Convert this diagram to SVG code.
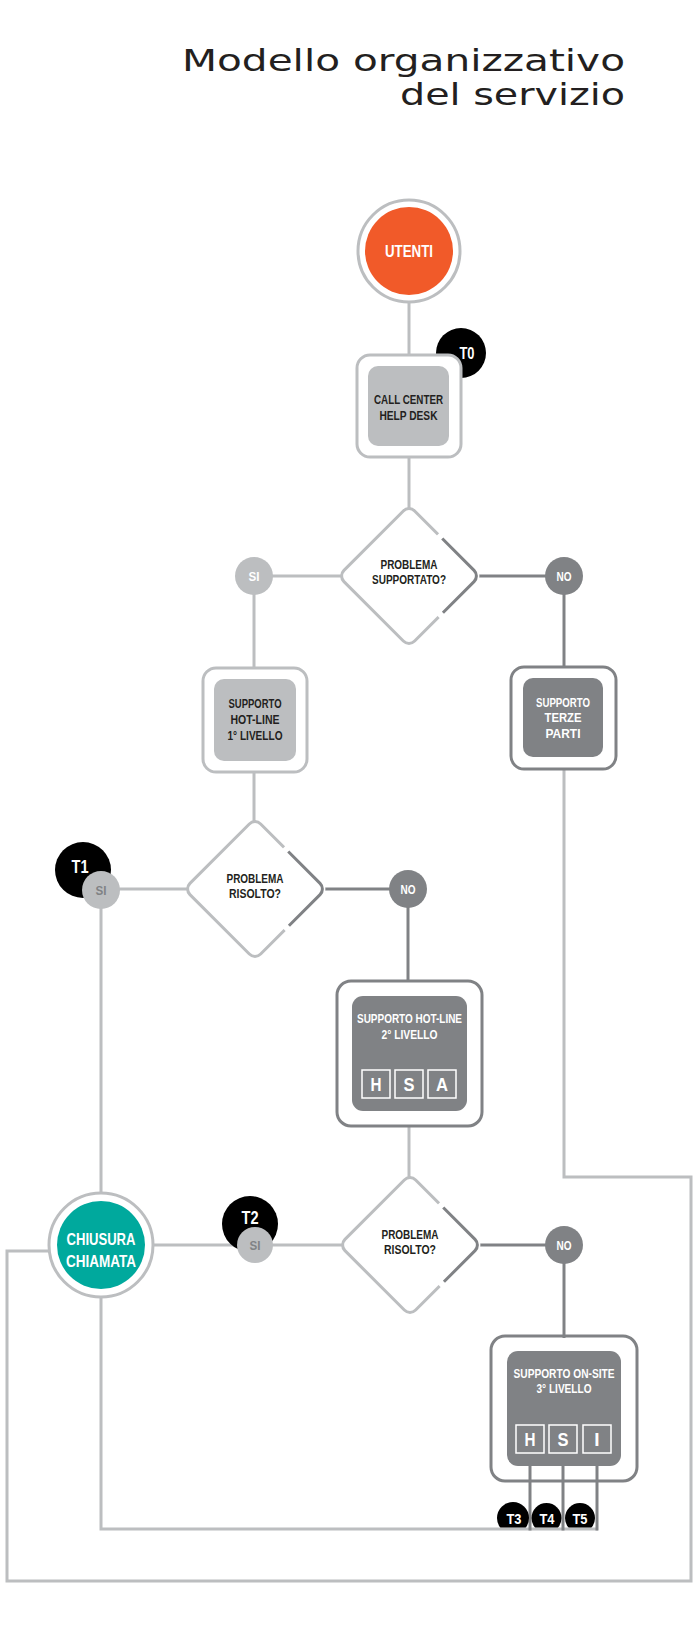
<svg xmlns="http://www.w3.org/2000/svg" width="700" height="1625" viewBox="0 0 700 1625">
<defs>
<style>
.lt{stroke:#bcbec0;stroke-width:3;fill:none}
.dk{stroke:#808285;stroke-width:3;fill:none}
.gap{stroke:#ffffff;stroke-width:6;fill:none}
.ob{fill:#ffffff;stroke:#bcbec0;stroke-width:3}
.obd{fill:#ffffff;stroke:#808285;stroke-width:3}
.dia{fill:#ffffff;stroke:#bcbec0;stroke-width:3}
.t{font-family:'Liberation Sans','Arial',sans-serif;font-weight:bold;text-anchor:middle}
.s12{font-size:13px}
.blk{fill:#231f20}
.wh{fill:#ffffff}
.gr{fill:#808285}
.title{font-family:'DejaVu Sans','Liberation Sans',sans-serif;font-size:30px;fill:#231f20}
.let{fill:none;stroke:#ffffff;stroke-width:1.5}
</style>
<clipPath id="tclip"><rect x="480" y="1490" width="130" height="37.5"/></clipPath>
</defs>
<rect width="700" height="1625" fill="#ffffff"/>

<g id="title">
<text class="title" x="182" y="71" textLength="443" lengthAdjust="spacingAndGlyphs">Modello organizzativo</text>
<text class="title" x="400" y="105" textLength="225" lengthAdjust="spacingAndGlyphs">del servizio</text>
</g>

<g id="connectors">
<line class="lt" x1="409" y1="300" x2="409" y2="357"/>
<line class="lt" x1="409" y1="455" x2="409" y2="512"/>
<line class="lt" x1="345" y1="576" x2="254" y2="576"/>
<line class="lt" x1="254" y1="576" x2="254" y2="670"/>
<line class="dk" x1="473" y1="576" x2="564" y2="576"/>
<line class="dk" x1="564" y1="576" x2="564" y2="669"/>
<line class="lt" x1="254" y1="770" x2="254" y2="826"/>
<line class="lt" x1="192" y1="889" x2="101" y2="889"/>
<line class="lt" x1="101" y1="889" x2="101" y2="1196"/>
<line class="dk" x1="318" y1="889" x2="408" y2="889"/>
<line class="dk" x1="408" y1="889" x2="408" y2="983"/>
<line class="lt" x1="409" y1="1124" x2="409" y2="1182"/>
<line class="lt" x1="346" y1="1245" x2="150" y2="1245"/>
<line class="dk" x1="474" y1="1245" x2="564" y2="1245"/>
<line class="dk" x1="564" y1="1245" x2="564" y2="1338"/>
<polyline class="lt" points="564,767 564,1177 691,1177 691,1581 7,1581 7,1251 51,1251"/>
<polyline class="lt" points="101,1295 101,1529 598,1529"/>
<line class="dk" x1="530" y1="1460" x2="530" y2="1530.5"/>
<line class="dk" x1="563" y1="1460" x2="563" y2="1530.5"/>
<line class="dk" x1="597" y1="1460" x2="597" y2="1530.5"/>
</g>

<g id="utenti">
<circle cx="409" cy="251" r="51" class="ob"/>
<circle cx="409" cy="251" r="44" fill="#f15a29"/>
<text class="t wh" x="409" y="257" font-size="16.5" textLength="48" lengthAdjust="spacingAndGlyphs">UTENTI</text>
</g>

<g id="t0">
<circle cx="461" cy="353" r="25" fill="#000000"/>
<text class="t wh" x="467" y="359" font-size="16" textLength="15" lengthAdjust="spacingAndGlyphs">T0</text>
</g>

<g id="callcenter">
<rect x="357" y="355" width="104" height="102" rx="13" class="ob"/>
<rect x="368" y="366" width="81" height="80" rx="10" fill="#bcbec0"/>
<text class="t blk s12" x="408.5" y="404" textLength="69" lengthAdjust="spacingAndGlyphs">CALL CENTER</text>
<text class="t blk s12" x="408.5" y="420" textLength="58" lengthAdjust="spacingAndGlyphs">HELP DESK</text>
</g>

<g id="diamond1" transform="translate(409,576)">
<rect x="-50" y="-50" width="100" height="100" rx="8" transform="rotate(45)" class="dia"/>
<path d="M-9,-50 H42 A8 8 0 0 1 50,-42 V8" transform="rotate(45)" class="gap"/>
<path d="M-3,-50 H42 A8 8 0 0 1 50,-42 V2" transform="rotate(45)" class="dk"/>
<text class="t blk s12" x="0" y="-7" textLength="57" lengthAdjust="spacingAndGlyphs">PROBLEMA</text>
<text class="t blk s12" x="0" y="8" textLength="74" lengthAdjust="spacingAndGlyphs">SUPPORTATO?</text>
</g>

<g id="si1">
<circle cx="254" cy="576" r="19" fill="#bcbec0"/>
<text class="t wh s12" x="254" y="581" textLength="11" lengthAdjust="spacingAndGlyphs">SI</text>
</g>

<g id="no1">
<circle cx="564" cy="576" r="19" fill="#808285"/>
<text class="t wh s12" x="564" y="581" textLength="15" lengthAdjust="spacingAndGlyphs">NO</text>
</g>

<g id="hotline1">
<rect x="203" y="668" width="104" height="104" rx="13" class="ob"/>
<rect x="214" y="679" width="82" height="82" rx="10" fill="#bcbec0"/>
<text class="t blk s12" x="255" y="708" textLength="53" lengthAdjust="spacingAndGlyphs">SUPPORTO</text>
<text class="t blk s12" x="255" y="724" textLength="49" lengthAdjust="spacingAndGlyphs">HOT-LINE</text>
<text class="t blk s12" x="255" y="740" textLength="55" lengthAdjust="spacingAndGlyphs">1° LIVELLO</text>
</g>

<g id="terzeparti">
<rect x="511" y="667" width="105" height="102" rx="13" class="obd"/>
<rect x="523" y="678" width="80" height="79" rx="10" fill="#808285"/>
<text class="t wh s12" x="563" y="707" textLength="54" lengthAdjust="spacingAndGlyphs">SUPPORTO</text>
<text class="t wh s12" x="563" y="722" textLength="37" lengthAdjust="spacingAndGlyphs">TERZE</text>
<text class="t wh s12" x="563" y="738" textLength="35" lengthAdjust="spacingAndGlyphs">PARTI</text>
</g>

<g id="diamond2" transform="translate(255,889)">
<rect x="-50" y="-50" width="100" height="100" rx="8" transform="rotate(45)" class="dia"/>
<path d="M-9,-50 H42 A8 8 0 0 1 50,-42 V8" transform="rotate(45)" class="gap"/>
<path d="M-3,-50 H42 A8 8 0 0 1 50,-42 V2" transform="rotate(45)" class="dk"/>
<text class="t blk s12" x="0" y="-6" textLength="57" lengthAdjust="spacingAndGlyphs">PROBLEMA</text>
<text class="t blk s12" x="0" y="9" textLength="52" lengthAdjust="spacingAndGlyphs">RISOLTO?</text>
</g>

<g id="t1">
<circle cx="83" cy="870" r="28" fill="#000000"/>
<text class="t wh" x="80" y="873" font-size="19" textLength="17" lengthAdjust="spacingAndGlyphs">T1</text>
</g>

<g id="si2">
<circle cx="101" cy="890" r="19" fill="#bcbec0"/>
<text class="t gr s12" x="101" y="895" textLength="11" lengthAdjust="spacingAndGlyphs">SI</text>
</g>

<g id="no2">
<circle cx="408" cy="889" r="19" fill="#808285"/>
<text class="t wh s12" x="408" y="894" textLength="15" lengthAdjust="spacingAndGlyphs">NO</text>
</g>

<g id="hotline2">
<rect x="337" y="981" width="145" height="145" rx="14" class="obd"/>
<rect x="352" y="996" width="115" height="115" rx="11" fill="#808285"/>
<text class="t wh s12" x="409.5" y="1023" textLength="105" lengthAdjust="spacingAndGlyphs">SUPPORTO HOT-LINE</text>
<text class="t wh s12" x="409.5" y="1039" textLength="56" lengthAdjust="spacingAndGlyphs">2° LIVELLO</text>
<rect x="362" y="1070" width="28" height="28" class="let"/>
<rect x="395" y="1070" width="28" height="28" class="let"/>
<rect x="428" y="1070" width="28" height="28" class="let"/>
<text class="t wh" x="376" y="1091" font-size="19" textLength="11" lengthAdjust="spacingAndGlyphs">H</text>
<text class="t wh" x="409" y="1091" font-size="19" textLength="11" lengthAdjust="spacingAndGlyphs">S</text>
<text class="t wh" x="442" y="1091" font-size="19" textLength="12" lengthAdjust="spacingAndGlyphs">A</text>
</g>

<g id="diamond3" transform="translate(410,1245)">
<rect x="-50" y="-50" width="100" height="100" rx="8" transform="rotate(45)" class="dia"/>
<path d="M-9,-50 H42 A8 8 0 0 1 50,-42 V8" transform="rotate(45)" class="gap"/>
<path d="M-3,-50 H42 A8 8 0 0 1 50,-42 V2" transform="rotate(45)" class="dk"/>
<text class="t blk s12" x="0" y="-6" textLength="57" lengthAdjust="spacingAndGlyphs">PROBLEMA</text>
<text class="t blk s12" x="0" y="9" textLength="52" lengthAdjust="spacingAndGlyphs">RISOLTO?</text>
</g>

<g id="t2">
<circle cx="250" cy="1224" r="28" fill="#000000"/>
<text class="t wh" x="250" y="1224" font-size="19" textLength="17" lengthAdjust="spacingAndGlyphs">T2</text>
</g>

<g id="si3">
<circle cx="255" cy="1245" r="18" fill="#bcbec0"/>
<text class="t gr s12" x="255" y="1250" textLength="11" lengthAdjust="spacingAndGlyphs">SI</text>
</g>

<g id="no3">
<circle cx="564" cy="1245" r="19" fill="#808285"/>
<text class="t wh s12" x="564" y="1250" textLength="15" lengthAdjust="spacingAndGlyphs">NO</text>
</g>

<g id="chiusura">
<circle cx="101" cy="1245" r="52" class="ob"/>
<circle cx="101" cy="1245" r="44" fill="#00a99d"/>
<text class="t wh" x="101" y="1245" font-size="16.5" textLength="69" lengthAdjust="spacingAndGlyphs">CHIUSURA</text>
<text class="t wh" x="101" y="1267" font-size="16.5" textLength="70" lengthAdjust="spacingAndGlyphs">CHIAMATA</text>
</g>

<g id="onsite3">
<rect x="491" y="1336" width="146" height="145" rx="14" class="dk"/>
<rect x="507" y="1351" width="114" height="115" rx="11" fill="#808285"/>
<text class="t wh s12" x="564" y="1378" textLength="101" lengthAdjust="spacingAndGlyphs">SUPPORTO ON-SITE</text>
<text class="t wh s12" x="564" y="1393" textLength="55" lengthAdjust="spacingAndGlyphs">3° LIVELLO</text>
<rect x="516" y="1425" width="28" height="28" class="let"/>
<rect x="549" y="1425" width="28" height="28" class="let"/>
<rect x="583" y="1425" width="28" height="28" class="let"/>
<text class="t wh" x="530" y="1446" font-size="19" textLength="11" lengthAdjust="spacingAndGlyphs">H</text>
<text class="t wh" x="563" y="1446" font-size="19" textLength="11" lengthAdjust="spacingAndGlyphs">S</text>
<text class="t wh" x="597" y="1446" font-size="19">I</text>
</g>

<g id="t3">
<circle cx="513" cy="1518" r="16" fill="#000000" clip-path="url(#tclip)"/>
<text class="t wh" x="514" y="1524" font-size="15.5" textLength="15" lengthAdjust="spacingAndGlyphs">T3</text>
</g>
<g id="t4">
<circle cx="546.5" cy="1518" r="15" fill="#000000" clip-path="url(#tclip)"/>
<text class="t wh" x="547" y="1524" font-size="15.5" textLength="15" lengthAdjust="spacingAndGlyphs">T4</text>
</g>
<g id="t5">
<circle cx="580" cy="1518" r="15" fill="#000000" clip-path="url(#tclip)"/>
<text class="t wh" x="580" y="1524" font-size="15.5" textLength="15" lengthAdjust="spacingAndGlyphs">T5</text>
</g>
</svg>
